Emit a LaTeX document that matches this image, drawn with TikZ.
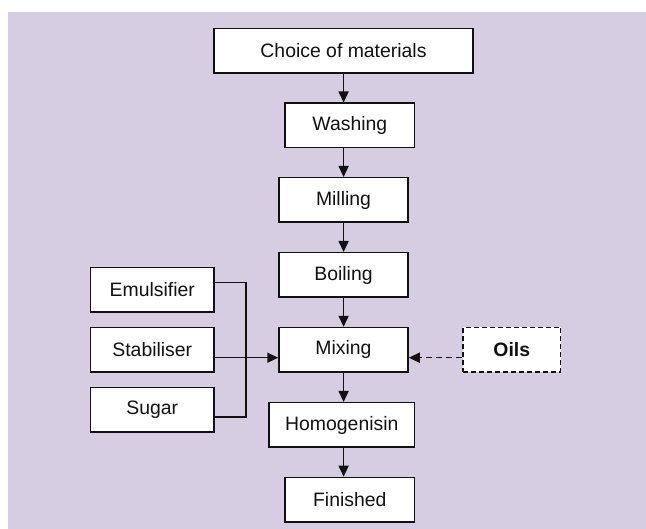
\documentclass[tikz,border=0pt]{standalone}
\usepackage{fontspec}
\setmainfont{Liberation Sans}
\usepackage{xcolor}
\usetikzlibrary{arrows.meta}
\definecolor{ground}{HTML}{D6CDE2}
\definecolor{ink}{HTML}{111111}
\tikzset{
  stepbox/.style  = {draw=ink, fill=white, line width=1.5pt, minimum height=44.5pt, inner sep=0pt,
                     font=\fontsize{19.4}{22}\selectfont\color{ink}},
  oilbox/.style   = {stepbox, dash pattern=on 5pt off 3pt, font=\fontsize{19.4}{22}\selectfont\bfseries\color{ink}},
  wire/.style     = {draw=ink, line width=1.5pt},
  flow/.style     = {-{Triangle[length=11pt,width=10pt]}, draw=ink, line width=1.5pt},
}
\begin{document}
\begin{tikzpicture}[x=1pt,y=-1pt]
\useasboundingbox (0,0) rectangle (646,529);
\fill[ground] (8,12) rectangle (646,529);

% ---- main line ----------------------------------------------------------
\node[stepbox, minimum width=259pt]   (choice) at (343.5,50.8)  {Choice of materials};
\node[stepbox, minimum width=129.5pt] (wash)   at (349.8,125.5) {Washing};
\node[stepbox, minimum width=129pt]   (mill)   at (343.5,200)   {Milling};
\node[stepbox, minimum width=129pt]   (boil)   at (343.5,275)   {Boiling};
\node[stepbox, minimum width=129pt]   (mix)    at (343.5,349.8) {Mixing};
\node[stepbox, minimum width=145.5pt] (homog)  at (341.8,425)   {Homogenisin};
\node[stepbox, minimum width=129.5pt] (fin)    at (349.8,499.7) {Finished};

% ---- additives ----------------------------------------------------------
\node[stepbox, minimum width=123.4pt] (emul)  at (152.3,290)   {Emulsifier};
\node[stepbox, minimum width=123.4pt] (stab)  at (152.3,350)   {Stabiliser};
\node[stepbox, minimum width=123.4pt] (sugar) at (152.3,409.8) {Sugar};
\node[oilbox,  minimum width=97.5pt]  (oils)  at (511.8,349.7) {Oils};

% ---- connectors ---------------------------------------------------------
\coordinate (axis) at (343.6,0);
\coordinate (lvl)  at (0,357.7);
\coordinate (jtop) at (246,282.7);
\coordinate (jbot) at (246,417);

\draw[flow] (choice.south -| axis) -- (wash.north -| axis);
\draw[flow] (wash.south -| axis)   -- (mill.north -| axis);
\draw[flow] (mill.south -| axis)   -- (boil.north -| axis);
\draw[flow] (boil.south -| axis)   -- (mix.north -| axis);
\draw[flow] (mix.south -| axis)    -- (homog.north -| axis);
\draw[flow] (homog.south -| axis)  -- (fin.north -| axis);

\draw[wire] (emul.east |- jtop) -- (jtop) -- (jbot) -- (sugar.east |- jbot);
\draw[flow] (stab.east |- lvl) -- (mix.west |- lvl);
\draw[flow, dash pattern=on 6pt off 4pt] (oils.west |- lvl) -- (mix.east |- lvl);

\end{tikzpicture}
\end{document}
